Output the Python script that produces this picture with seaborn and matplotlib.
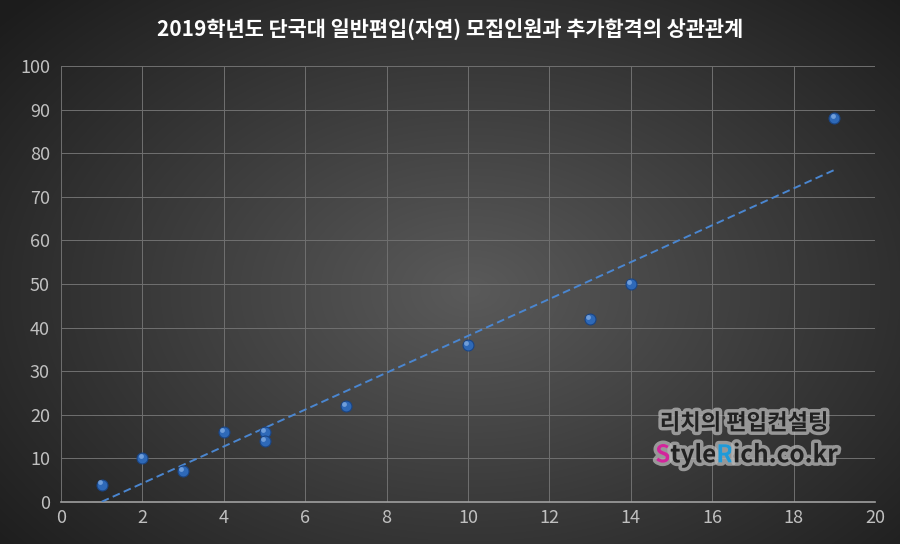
import numpy as np
import matplotlib
matplotlib.use("Agg")
import matplotlib.pyplot as plt
import matplotlib.patheffects as pe
import seaborn as sns

# 모집인원 vs 추가합격
recruit = [1, 2, 3, 4, 5, 5, 7, 10, 13, 14, 19]
extra_pass = [4, 10, 7, 16, 16, 14, 22, 36, 42, 50, 88]
x_ticks = list(range(0, 21, 2))
y_ticks = list(range(0, 101, 10))
title = "2019학년도 단국대 일반편입(자연) 모집인원과 추가합격의 상관관계"

sns.set_theme(style="dark")
plt.rcParams['font.family'] = ['Noto Sans CJK KR', 'DejaVu Sans']

fig = plt.figure(figsize=(9, 5.44), dpi=100)

# radial gradient background
bg = fig.add_axes([0, 0, 1, 1], zorder=-10)
yy, xx = np.mgrid[0:544, 0:900]
r = np.sqrt(((xx - 470) / 620.0) ** 2 + ((yy - 290) / 420.0) ** 2)
r = np.clip(r, 0, 1)
c_in = np.array([0x5a, 0x5a, 0x5a]) / 255.0
c_out = np.array([0x1c, 0x1c, 0x1c]) / 255.0
img = c_in[None, None, :] * (1 - r[..., None]) + c_out[None, None, :] * r[..., None]
bg.imshow(img, aspect='auto', extent=[0, 1, 0, 1])
bg.axis('off')

ax = fig.add_axes([0.0678, 0.0772, 0.9044, 0.8015])
ax.set_facecolor('none')

# trendline
k, b = np.polyfit(recruit, extra_pass, 1)
xs = np.array([min(recruit), max(recruit)])
ax.plot(xs, k * xs + b, linestyle=(0, (4, 2.2)), color='#4a86d0', linewidth=1.4, zorder=3)

sns.scatterplot(x=recruit, y=extra_pass, ax=ax, s=62, color='#2e69b8',
                edgecolor='#1a4585', linewidth=0.8, zorder=4)
ax.scatter(np.array(recruit) - 0.04, np.array(extra_pass) + 0.5, s=12,
           color='#86b0e6', linewidth=0, zorder=5, alpha=0.75)

ax.set_xlim(0, 20)
ax.set_ylim(0, 100)
ax.set_xticks(x_ticks)
ax.set_yticks(y_ticks)
ax.grid(True, color='#707070', linewidth=0.7)
ax.tick_params(colors='#c0c0c0', labelsize=13, length=0)
ax.tick_params(axis='y', pad=8)
ax.tick_params(axis='x', pad=5)
for s in ['top', 'right', 'left']:
    ax.spines[s].set_visible(False)
ax.spines['bottom'].set_color('#a0a0a0')
ax.spines['bottom'].set_linewidth(1.2)

fig.text(0.5, 0.945, title, ha='center', va='center', color='white',
         fontsize=15, fontweight='bold')

# watermark
glow = [pe.withStroke(linewidth=5, foreground='#b8b8b8', alpha=0.75)]
fig.text(0.827, 0.222, "리치의 편입컨설팅", ha='center', va='center', color='#222222',
         fontsize=16, fontweight='bold', path_effects=glow)
t1 = fig.text(0.728, 0.163, "S", ha='left', va='center', color='#d2269b',
              fontsize=17.5, fontweight='bold', path_effects=glow)
fig.canvas.draw()
rend = fig.canvas.get_renderer()
parts = [("tyle", '#222222'), ("R", '#1f9ad8'), ("ich.co.kr", '#222222')]
x0 = t1.get_window_extent(rend).x1 / fig.bbox.width
for txt, col in parts:
    t = fig.text(x0, 0.163, txt, ha='left', va='center', color=col,
                 fontsize=17.5, fontweight='bold', path_effects=glow)
    x0 = t.get_window_extent(rend).x1 / fig.bbox.width

fig.savefig('out.png', dpi=100)
